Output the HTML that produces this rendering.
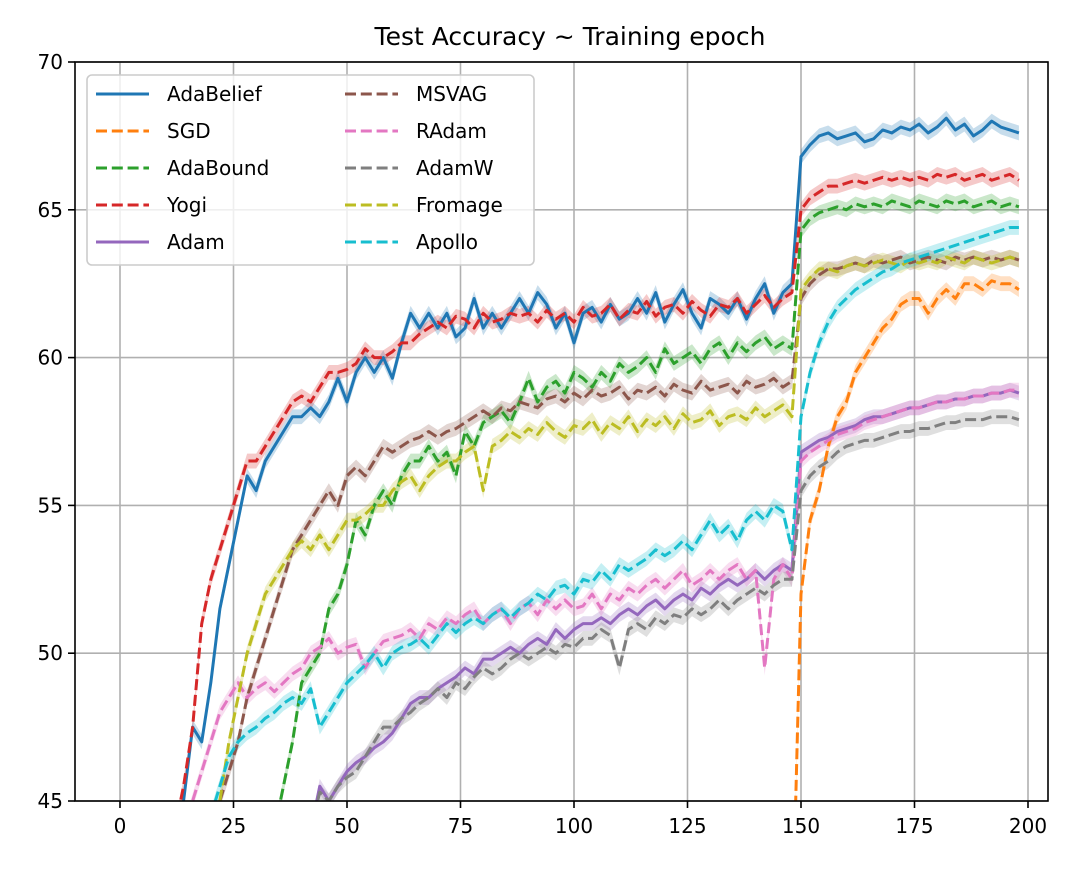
<!DOCTYPE html>
<html><head><meta charset="utf-8">
<style>
html,body{margin:0;padding:0;background:#fff;width:1086px;height:869px;overflow:hidden;}
svg{display:block;font-family:"DejaVu Sans","Liberation Sans",sans-serif;}
</style></head>
<body>
<svg id="chart" width="1086" height="869" viewBox="0 0 1086 869" xmlns="http://www.w3.org/2000/svg">
<defs><clipPath id="plotclip"><rect x="75" y="62" width="973" height="739"/></clipPath></defs>
<rect x="0" y="0" width="1086" height="869" fill="#fff"/>
<text x="570" y="45" font-size="25" text-anchor="middle" fill="#000">Test Accuracy ~ Training epoch</text>
<g id="grid"></g>
<g id="bands" clip-path="url(#plotclip)"></g>
<g id="lines" clip-path="url(#plotclip)"></g>
<rect x="75" y="62" width="973" height="739" fill="none" stroke="#000" stroke-width="1.6"/>
<g id="ticks"></g>
<g id="legend"></g>
</svg>
<script>
const seriesNames = ["AdaBelief","SGD","AdaBound","Yogi","Adam","MSVAG","RAdam","AdamW","Fromage","Apollo"];
const seriesColors = ["#1f77b4","#ff7f0e","#2ca02c","#d62728","#9467bd","#8c564b","#e377c2","#7f7f7f","#bcbd22","#17becf"];
const seriesDashed = [false,true,true,true,false,true,true,true,true,true];
const seriesStart = [14,148,34,12,42,20,14,42,22,18];
const xTicks = [0,25,50,75,100,125,150,175,200];
const yTicks = [45,50,55,60,65,70];

const adabelief = [45,47.5,47,49,51.5,53,54.5,56,55.5,56.5,57,57.5,58,58,58.3,58,58.5,59.3,58.5,59.5,60,59.5,60,59.3,60.5,61.5,61,61.5,61,61.5,60.7,61,62,61,61.5,61,61.5,62,61.5,62.2,61.8,61,61.5,60.5,61.5,61.7,61.2,61.8,61.3,61.5,62,61.5,62.2,61.2,61.8,62.3,61.5,61,62,61.8,61.5,62,61.3,62,62.5,61.5,62.2,62.5,66.8,67.2,67.5,67.6,67.4,67.5,67.6,67.3,67.4,67.7,67.6,67.8,67.7,67.9,67.6,67.8,68.1,67.7,67.9,67.5,67.7,68,67.8,67.7,67.6];
const sgd = [40,52,54.5,55.5,57,58,58.5,59.5,60,60.5,61,61.3,61.8,62,62,61.5,62,62.3,62,62.5,62.5,62.3,62.6,62.5,62.5,62.3];
const adabound = [44,45.5,47,49,49.5,50,51.5,52,53,54.5,54,55,55.5,55,56,56.5,56.5,57,56.5,56.8,56,57.5,57,57.8,58,58.2,57.8,58.5,59.3,58.5,59,59.2,58.8,59.5,59.3,59,59.5,59.2,59.8,59.5,59.7,60,59.5,60.3,59.8,60,60.2,59.8,60.3,60.5,60,60.5,60.2,60.5,60.7,60.3,60.5,60.3,64.3,64.7,64.9,65,65.1,65,65.2,65.1,65.2,65.1,65.3,65.2,65.1,65.3,65.2,65.1,65.3,65.2,65.3,65.1,65.2,65.3,65.1,65.2,65.1];
const yogi = [44,45.5,47.5,51,52.5,53.5,54.5,55.5,56.5,56.5,57,57.5,58,58.5,58.7,58.5,59,59.5,59.5,59.6,59.8,60.3,60,60,60.2,60.5,60.5,60.8,61,61.2,61,61.4,61.3,61,61.5,61.2,61.3,61.5,61.4,61.5,61.2,61.6,61.3,61.5,61.2,61.7,61.4,61.5,61.8,61.3,61.6,61.5,61.9,61.4,61.7,61.8,61.5,61.9,61.6,61.4,61.8,61.7,62,61.5,61.8,62.1,61.7,62,62.2,65,65.4,65.6,65.8,65.8,65.9,66,65.9,66,66.1,66,66.1,66,66.1,66,66.2,66.1,66.2,66,66.1,66.2,66,66.1,66.2,66];
const adam = [44,45.5,45,45.5,46,46.3,46.5,46.8,47,47.3,47.8,48.3,48.5,48.5,48.8,49,49.2,49.5,49.3,49.8,49.8,50,50.2,50,50.3,50.5,50.3,50.8,50.5,50.8,51,51,51.2,51,51.3,51.5,51.3,51.6,51.8,51.5,51.8,52,51.8,52.2,52,52.3,52.5,52.3,52.5,52.8,52.5,52.8,53,52.8,56.8,57,57.2,57.3,57.5,57.6,57.7,57.9,58,58,58.1,58.2,58.3,58.3,58.4,58.5,58.5,58.6,58.6,58.7,58.7,58.8,58.8,58.9,58.8];
const msvag = [44,45,46,47,48.5,49.5,50.5,51.5,52.5,53.5,54,54.5,55,55.5,55,56,56.3,56,56.5,57,56.8,57,57.2,57.3,57.5,57.3,57.5,57.6,57.8,58,58.2,58,58.3,58.2,58.5,58.4,58.3,58.6,58.7,58.5,58.8,58.6,58.9,58.7,58.8,59,58.6,58.9,58.8,59,58.7,59.1,58.9,58.8,59.2,58.9,59,59.1,58.8,59.2,59,59.1,59.3,59,59.2,62,62.5,62.8,63,63,63.1,63.2,63.1,63.3,63.2,63.3,63.4,63.2,63.3,63.4,63.3,63.2,63.4,63.3,63.4,63.3,63.4,63.3,63.4,63.3];
const radam = [44,45,46,47,48,48.5,49,48.5,48.8,49,48.7,49,49.3,49.5,50,50.2,50.5,50,50.2,50.3,49.5,50,50.4,50.5,50.6,50.8,50.5,51,50.8,51.2,51,51.3,51.5,51,51.3,51.5,51,51.5,51.7,51.3,51.8,51.5,51.8,51.5,51.6,52,51.5,52,51.8,52.2,52,52.3,52.5,52.2,52.5,52.8,52.3,52.5,52.8,52.5,52.8,53,52.5,52.8,49.5,52.5,53,52.5,56.5,56.8,57,57.2,57.4,57.5,57.6,57.8,57.9,58,58.1,58.2,58.3,58.3,58.4,58.5,58.5,58.6,58.6,58.7,58.7,58.8,58.8,58.9,58.9];
const adamw = [44,45.3,45,45.5,45.8,46,46.5,47,47.5,47.5,47.8,48,48.3,48.5,48.8,48.5,49,48.8,49.2,49.5,49.3,49.5,49.8,50,49.8,50,50.2,50,50.3,50.2,50.5,50.5,50.8,50.6,49.5,50.8,51,50.8,51.2,51,51.3,51.2,51.5,51.3,51.5,51.8,51.5,51.8,52,52.2,52,52.3,52.5,52.5,55.5,56,56.3,56.5,56.8,57,57.1,57.2,57.2,57.3,57.4,57.5,57.5,57.6,57.6,57.7,57.8,57.8,57.9,57.9,57.9,58,58,58,57.9];
const fromage = [45,47,48.5,50,51,52,52.5,53,53.5,53.8,53.5,54,53.5,54,54.5,54.5,54.7,55,55,55.5,55.8,56,55.5,56,56.3,56.5,56.5,56.8,57,55.5,57,57.2,57.5,57.3,57.6,57.4,57.8,57.5,57.3,57.7,57.6,57.9,57.4,57.8,57.6,58,57.5,57.9,57.7,58,57.6,58.1,57.8,57.9,58.2,57.7,58,58.1,57.9,58.3,58,58.2,58.4,58,62.3,62.7,63,63,62.9,63.1,63.2,63.1,63.2,63.3,63.2,63.1,63.3,63.2,63.3,63.2,63.4,63.3,63.2,63.4,63.3,63.2,63.3,63.4,63.3];
const apollo = [44,44.5,45.5,46.5,47,47.3,47.5,47.8,48,48.3,48.5,48.3,48.8,47.5,48,48.5,49,49.3,49.6,50,49.5,50,50.2,50.3,50.5,50.2,50.6,51,50.7,51,51.2,51,51.3,51.5,51.2,51.5,51.7,52,51.8,52.2,52.3,52,52.5,52.4,52.8,52.5,53,52.8,53,53.2,53.5,53.3,53.5,53.8,53.5,54,54.5,54,54.3,53.8,54.5,54.8,54.5,55,54.8,53.5,58,59.5,60.5,61.2,61.7,62,62.3,62.5,62.7,62.9,63,63.2,63.3,63.4,63.5,63.6,63.7,63.8,63.9,64,64.1,64.2,64.3,64.4,64.4];
const allSeries = [adabelief,sgd,adabound,yogi,adam,msvag,radam,adamw,fromage,apollo];

const NS="http://www.w3.org/2000/svg";
const X0=75,X1=1048,Y0=62,Y1=801;
function xScale(e){return 120+(e-0)*(1028-120)/200;}
function yScale(v){return Y1-(v-45)*(Y1-Y0)/25;}
function mk(tag,attrs,parent){const el=document.createElementNS(NS,tag);for(const k in attrs)el.setAttribute(k,attrs[k]);parent.appendChild(el);return el;}

const grid=document.getElementById('grid'),ticks=document.getElementById('ticks');
xTicks.forEach(t=>{
  const x=xScale(t);
  const g=mk('line',{x1:x,x2:x,y1:Y0,y2:Y1,stroke:'#b0b0b0','stroke-width':1.6},grid);
  
  
  const tk=mk('line',{x1:x,x2:x,y1:Y1,y2:Y1+7,stroke:'#000','stroke-width':1.6},ticks);
  
  
  const lb=mk('text',{x:x,y:Y1+32,'font-size':20,'text-anchor':'middle',fill:'#000'},ticks);
  lb.textContent=t;
  
  
});
yTicks.forEach(t=>{
  const y=yScale(t);
  const g=mk('line',{x1:X0,x2:X1,y1:y,y2:y,stroke:'#b0b0b0','stroke-width':1.6},grid);
  
  
  const tk=mk('line',{x1:X0-7,x2:X0,y1:y,y2:y,stroke:'#000','stroke-width':1.6},ticks);
  
  
  const lb=mk('text',{x:X0-12,y:y+7,'font-size':20,'text-anchor':'end',fill:'#000'},ticks);
  lb.textContent=t;
  
  
});

const bands=document.getElementById('bands'),lines=document.getElementById('lines');
allSeries.forEach((vals,i)=>{
  const st=seriesStart[i];
  const pts=vals.map((v,j)=>[xScale(st+2*j),yScale(v)]);
  const up=vals.map((v,j)=>xScale(st+2*j)+','+yScale(v+0.25));
  const dn=vals.map((v,j)=>xScale(st+2*j)+','+yScale(v-0.25)).reverse();
  const b=mk('polygon',{points:up.concat(dn).join(' '),fill:seriesColors[i],opacity:0.25},bands);
  
  
  const l=mk('polyline',{points:pts.map(p=>p.join(',')).join(' '),fill:'none',stroke:seriesColors[i],'stroke-width':3,'stroke-linejoin':'round'},lines);
  if(seriesDashed[i]) l.setAttribute('stroke-dasharray','11,4.8');
  
  
});

const leg=document.getElementById('legend');
const box=mk('rect',{x:87,y:75,width:447,height:190,rx:5,fill:'#fff','fill-opacity':0.8,stroke:'#ccc','stroke-width':1.6},leg);


seriesNames.forEach((n,i)=>{
  const col=Math.floor(i/5),row=i%5;
  const lx=col?345:96, tx=col?416:167, y=94+row*37;
  const l=mk('line',{x1:lx,x2:lx+53,y1:y,y2:y,stroke:seriesColors[i],'stroke-width':3},leg);
  if(seriesDashed[i]) l.setAttribute('stroke-dasharray','11,4.8');
  
  
  const t=mk('text',{x:tx,y:y+7,'font-size':20,fill:'#000'},leg);
  t.textContent=n;
  
  
});
</script>
</body></html>
